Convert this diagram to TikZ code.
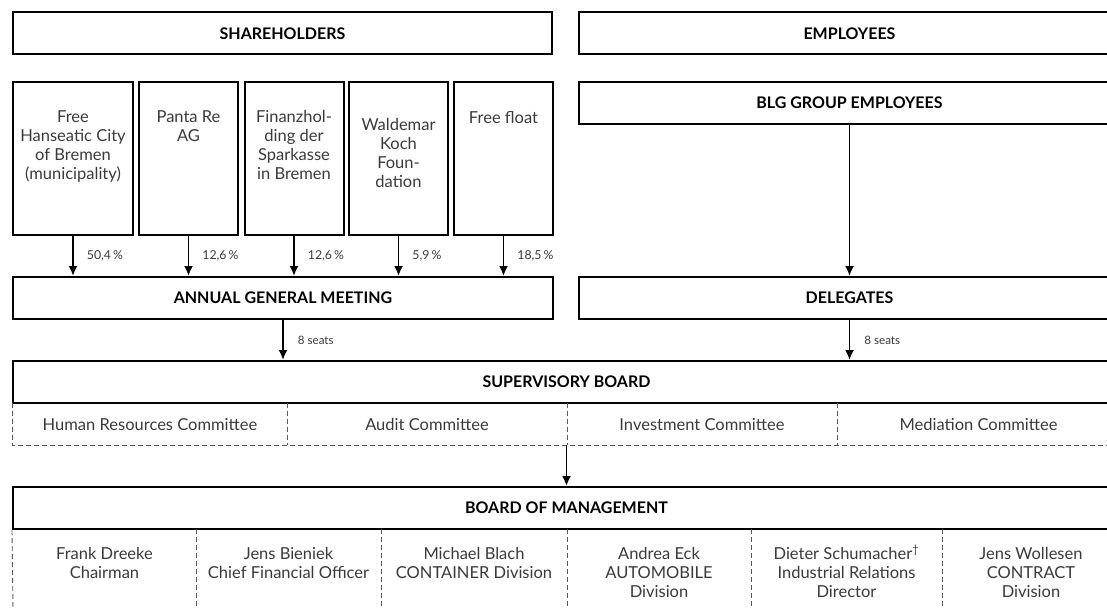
\documentclass[tikz,border=0pt]{standalone}
\usepackage{fontspec}
\setmainfont{Lato}
\usepackage{xcolor}
\usetikzlibrary{arrows.meta, positioning}

\definecolor{txt}{HTML}{3A3A3A}
\definecolor{dashgray}{HTML}{5A5A5A}

\begin{document}
\begin{tikzpicture}[x=1pt, y=-1pt,
	box/.style={draw, line width=2pt, inner sep=0pt},
	head/.style={box, minimum height=42pt, font=\bfseries\fontsize{16}{18}\selectfont},
	sbox/.style={box, minimum width=99pt, minimum height=153pt},
	stext/.style={anchor=north, align=center, inner sep=0pt, text=txt, font=\fontsize{16.5}{19}\selectfont, execute at begin node=\strut},
	ctext/.style={anchor=base, inner sep=0pt, text=txt, font=\fontsize{16.5}{19}\selectfont},
	pct/.style={anchor=west, inner sep=0pt, text=txt, font=\fontsize{12.3}{14}\selectfont},
	cut/.style={draw=dashgray, line width=0.9pt, dash pattern=on 5pt off 3pt},
	arr/.style={-{Latex[length=10pt,width=9pt]}, line width=1.8pt}
	]
	\useasboundingbox (0,0) rectangle (1107,607);
	\clip (0,0) rectangle (1107,607);
	% top row
	\node[head, minimum width=539pt] (sh) at (282.5,33.5) {SHAREHOLDERS};
	\node[head, minimum width=541pt] (emp) at (849.5,33.5) {EMPLOYEES};
	\node[head, minimum width=541pt] (blg) at (849.5,103) {BLG GROUP EMPLOYEES};
	% shareholders
	\node[sbox, minimum width=120pt] (s1) at (73,158.5) {};
	\node[sbox] (s2) at (188.5,158.5) {};
	\node[sbox] (s3) at (294,158.5) {};
	\node[sbox] (s4) at (398.5,158.5) {};
	\node[sbox] (s5) at (503.5,158.5) {};
	\node[stext] (s1t) at (73,110) {Free\\Hanseatic City\\of Bremen\\(municipality)};
	\node[stext] (s2t) at (188.5,110) {Panta Re\\AG};
	\node[stext] (s3t) at (294,110) {Finanzhol-\\ding der\\Sparkasse\\in Bremen};
	\node[stext] (s4t) at (398.5,118) {Waldemar\\Koch\\Foun-\\dation};
	\node[stext] (s5t) at (503.5,110) {Free float};
	% meetings
	\node[head, minimum width=540pt] (agm) at (283,298) {ANNUAL GENERAL MEETING};
	\node[head, minimum width=541pt] (del) at (849.5,298) {DELEGATES};
	\draw[arr] (s1.south) -- (s1.south |- agm.north) node[pct, midway, xshift=13pt] {50,4\,\%};
	\draw[arr] (s2.south) -- (s2.south |- agm.north) node[pct, midway, xshift=13pt] {12,6\,\%};
	\draw[arr] (s3.south) -- (s3.south |- agm.north) node[pct, midway, xshift=13pt] {12,6\,\%};
	\draw[arr] (s4.south) -- (s4.south |- agm.north) node[pct, midway, xshift=13pt] {5,9\,\%};
	\draw[arr] (s5.south) -- (s5.south |- agm.north) node[pct, midway, xshift=13pt] {18,5\,\%};
	\draw[arr] (blg.south) -- (del.north);
	% supervisory board
	\node[head, minimum width=1107pt] (sb) at (566.5,382) {SUPERVISORY BOARD};
	\node[minimum width=1107pt, minimum height=42pt, inner sep=0pt] (com) at (566.5,424) {};
	\draw[arr] (agm.south) -- (agm.south |- sb.north) node[pct, midway, xshift=14pt, font=\fontsize{11.6}{13}\selectfont] {8 seats};
	\draw[arr] (del.south) -- (del.south |- sb.north) node[pct, midway, xshift=14pt, font=\fontsize{11.6}{13}\selectfont] {8 seats};
	\node[ctext] (c1) at (150,430) {Human Resources Committee};
	\node[ctext] (c2) at (427,430) {Audit Committee};
	\node[ctext] (c3) at (702,430) {Investment Committee};
	\node[ctext] (c4) at (978.5,430) {Mediation Committee};
	\draw[cut] (com.north west) -- (com.south west) -- (com.south east);
	\draw[cut] (287,403) -- (287,445);
	\draw[cut] (567,403) -- (567,445);
	\draw[cut] (837,403) -- (837,445);
	% board of management
	\node[head, minimum width=1107pt] (bom) at (566.5,508) {BOARD OF MANAGEMENT};
	\draw[arr] (com.south) -- (bom.north);
	\node[stext] (m1) at (104.5,547) {Frank Dreeke\\Chairman};
	\node[stext] (m2) at (288.5,547) {Jens Bieniek\\Chief Financial Officer};
	\node[stext] (m3) at (474,547) {Michael Blach\\CONTAINER Division};
	\node[stext] (m4) at (659,547) {Andrea Eck\\AUTOMOBILE\\Division};
	\node[stext] (m5) at (846.5,547) {Dieter Schumacher\smash{\textsuperscript{\textdagger}}\\Industrial Relations\\Director};
	\node[stext] (m6) at (1031,547) {Jens Wollesen\\CONTRACT\\Division};
	\draw[cut] (bom.south west) -- (13,610);
	\draw[cut] (196,529) -- (196,610);
	\draw[cut] (381,529) -- (381,610);
	\draw[cut] (567,529) -- (567,610);
	\draw[cut] (751,529) -- (751,610);
	\draw[cut] (942,529) -- (942,610);
\end{tikzpicture}
\end{document}
